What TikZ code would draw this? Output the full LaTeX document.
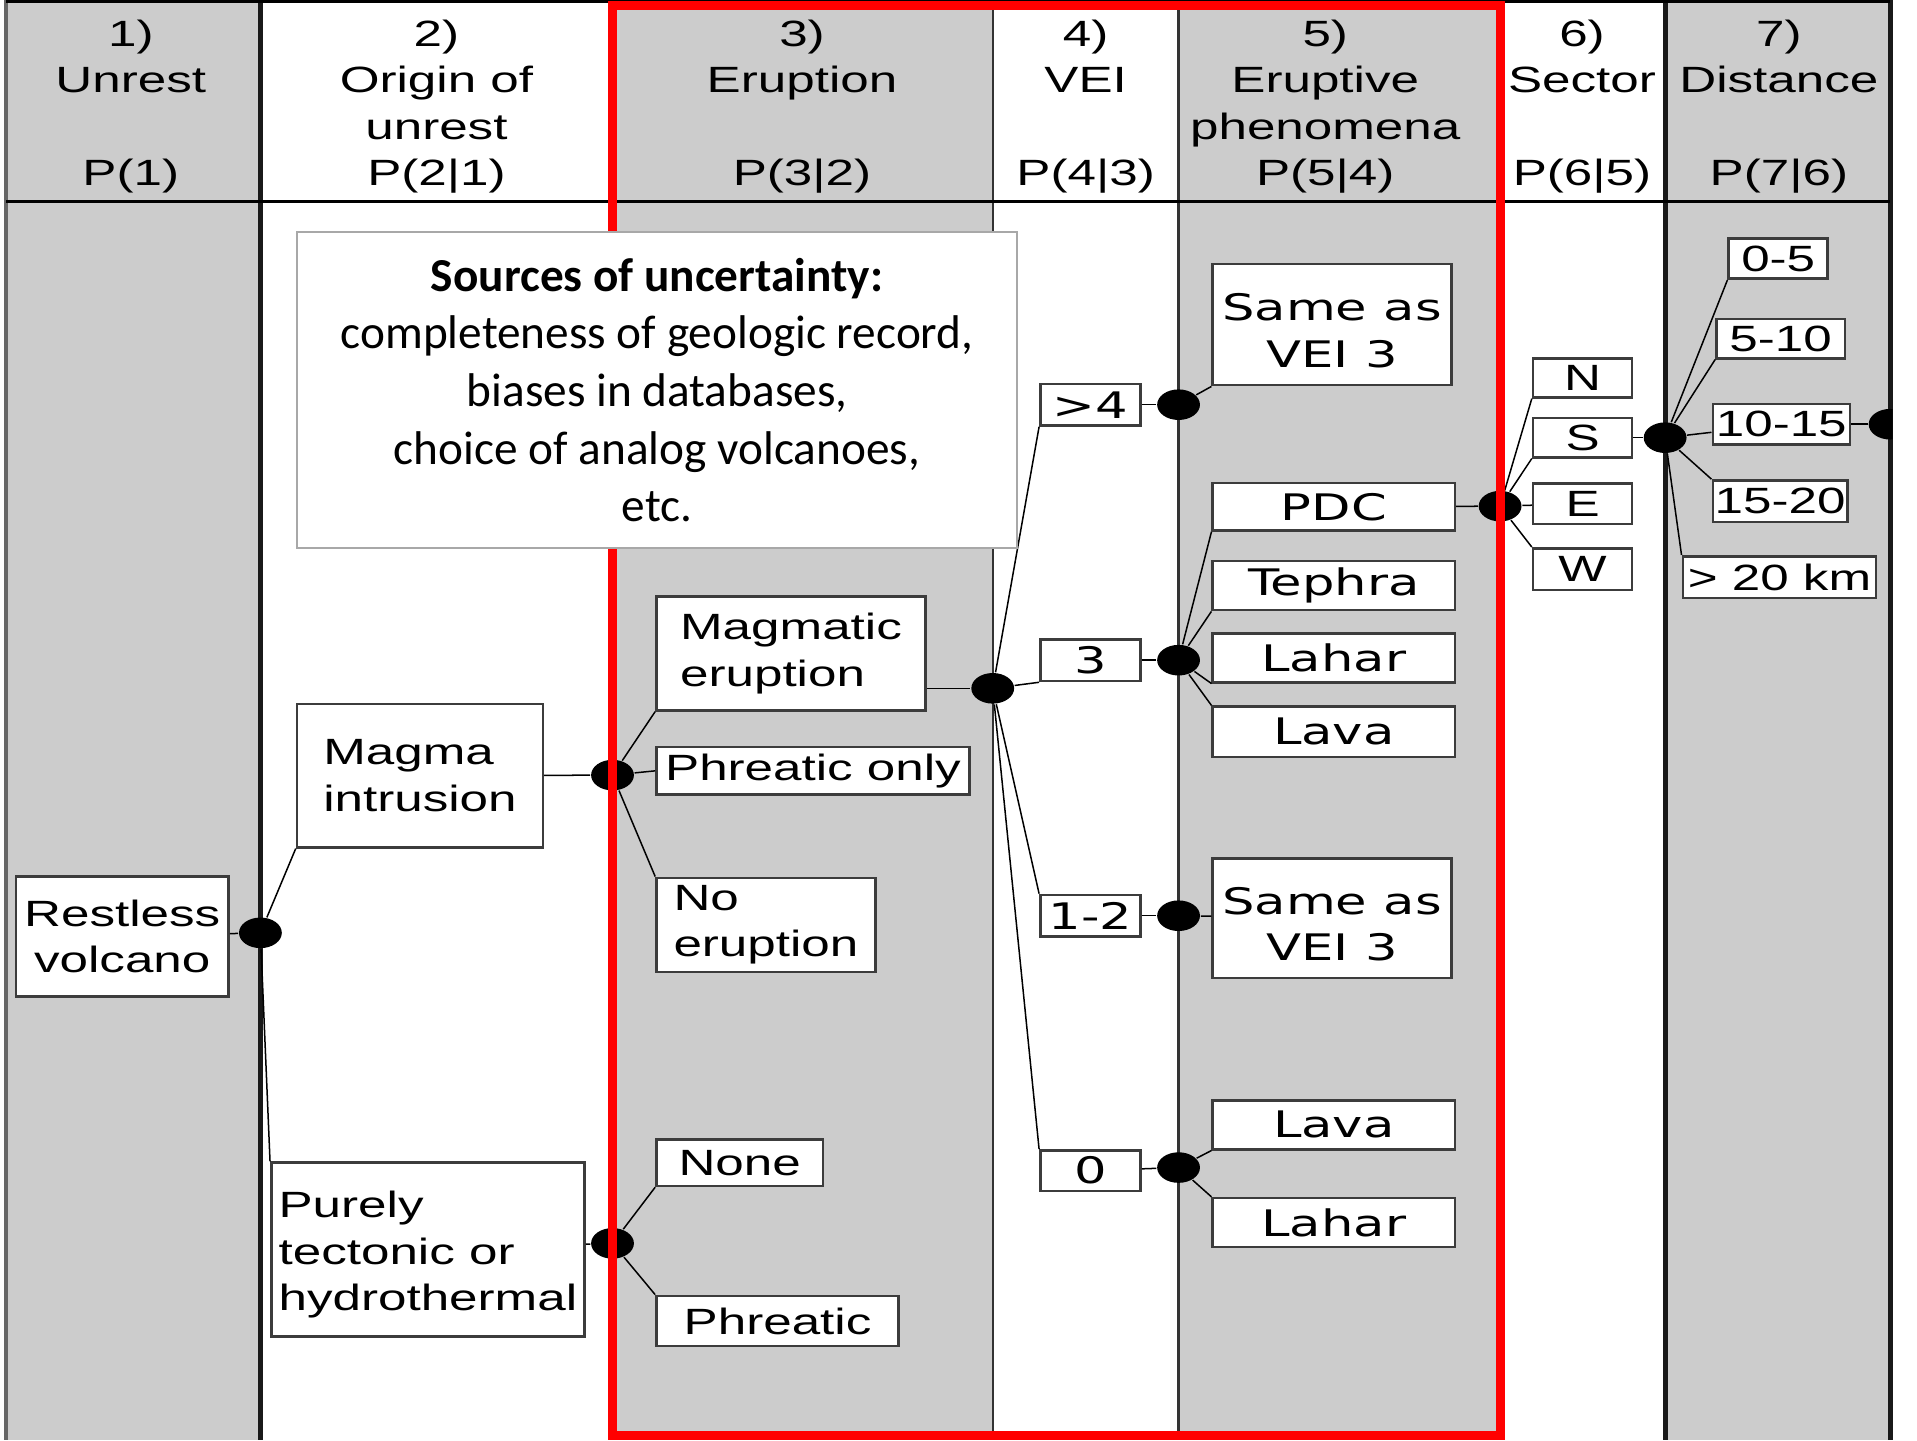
\documentclass[tikz,border=0pt]{standalone}
\usepackage{fontspec}
\usepackage{tikz}
\usetikzlibrary{shapes.geometric}
\newfontfamily\treefont[FakeStretch=1.4]{Liberation Sans}
\newfontfamily\valuefont[FakeStretch=1.4]{DejaVu Sans}
\newfontfamily\notefont{Carlito}
\definecolor{PanelGray}{HTML}{CCCCCC}
\definecolor{FrameRed}{HTML}{FF0000}
\definecolor{EdgeGray}{HTML}{3C3C3C}
\definecolor{NoteEdge}{HTML}{A8A8A8}

\begin{document}
\begin{tikzpicture}[x=0.01cm, y=-0.01cm,
  box/.style={draw=EdgeGray, line width=0.6pt, fill=white, inner sep=0pt, align=center, font=\treefont\fontsize{8.5}{10.8}\selectfont},
  valbox/.style={box, font=\valuefont\fontsize{8.5}{10.8}\selectfont},
  head/.style={anchor=north, inner sep=0pt, align=center, font=\treefont\fontsize{8.5}{10.8}\selectfont},
  chance/.style={ellipse, fill=black, inner sep=0pt, minimum width=0.35cm, minimum height=0.25cm},
  link/.style={line width=0.35pt, black},
  colrule/.style={line width=0.5pt, black!80},
  heavyrule/.style={line width=1.2pt, black!90}
]
\useasboundingbox (0,0) rectangle (1568,1178);
\fill[white] (0,0) rectangle (1568,1178);

\fill[PanelGray] (5,0) rectangle (213,1178);
\fill[PanelGray] (501,0) rectangle (812,1178);
\fill[PanelGray] (964,0) rectangle (1227,1178);
\fill[PanelGray] (1362,0) rectangle (1546,1178);
\draw[line width=0.9pt, black!60] (5,0) -- (5,1178);
\draw[heavyrule] (213,0) -- (213,1178);
\draw[colrule] (501,0) -- (501,1178);
\draw[colrule] (812,0) -- (812,1178);
\draw[colrule] (964,0) -- (964,1178);
\draw[colrule] (1227,0) -- (1227,1178);
\draw[heavyrule] (1362,0) -- (1362,1178);
\draw[heavyrule] (1546,0) -- (1546,1178);
\draw[line width=0.6pt] (5,1) -- (1546,1);
\draw[line width=0.75pt] (5,165) -- (1546,165);

\node[head] (h1) at (107,15.5) {1)\\Unrest\\[10.8pt]P(1)};
\node[head] (h2) at (357,15.5) {2)\\Origin of\\unrest\\P(2|1)};
\node[head] (h3) at (656,15.5) {3)\\Eruption\\[10.8pt]P(3|2)};
\node[head] (h4) at (888,15.5) {4)\\VEI\\[10.8pt]P(4|3)};
\node[head] (h5) at (1084,15.5) {5)\\Eruptive\\phenomena\\P(5|4)};
\node[head] (h6) at (1294,15.5) {6)\\Sector\\[10.8pt]P(6|5)};
\node[head] (h7) at (1455,15.5) {7)\\Distance\\[10.8pt]P(7|6)};

\begin{scope}
\clip (0,0) rectangle (1548,1178);
\node[box, minimum width=1.74cm, minimum height=0.98cm] (rv) at (100,766) {Restless\\volcano};
\node[box, align=left, minimum width=2.01cm, minimum height=1.17cm] (mi) at (343.5,634.5) {Magma\\intrusion};
\node[box, align=left, text height=1.06cm, minimum width=2.56cm, minimum height=1.42cm] (pt) at (350,1022) {Purely\\tectonic or\\hydrothermal};
\node[box, align=left, minimum width=2.2cm, minimum height=0.93cm] (me) at (647,534.5) {Magmatic\\eruption};
\node[box, minimum width=2.56cm, minimum height=0.39cm] (po) at (665,630.5) {Phreatic only};
\node[box, align=left, minimum width=1.79cm, minimum height=0.77cm] (ne) at (626.5,756.5) {No\\eruption};
\node[box, minimum width=1.36cm, minimum height=0.38cm] (nn) at (605,951) {None};
\node[box, minimum width=1.98cm, minimum height=0.41cm] (ph) at (636,1080.5) {Phreatic};

\node[valbox, minimum width=0.82cm, minimum height=0.34cm] (v4) at (892,331) {>4};
\node[valbox, minimum width=0.82cm, minimum height=0.34cm] (v3) at (892,540) {3};
\node[valbox, minimum width=0.82cm, minimum height=0.34cm] (v12) at (892,749) {1-2};
\node[valbox, minimum width=0.82cm, minimum height=0.33cm] (v0) at (892,957.5) {0};

\node[valbox, text height=0.7cm, minimum width=1.95cm, minimum height=0.99cm] (sa4) at (1089.5,265.5) {Same as\\VEI 3};
\node[valbox, minimum width=1.98cm, minimum height=0.39cm] (pdc) at (1091,414.5) {PDC};
\node[valbox, minimum width=1.98cm, minimum height=0.4cm] (tph) at (1091,479) {Tephra};
\node[valbox, minimum width=1.98cm, minimum height=0.4cm] (lh3) at (1091,538) {Lahar};
\node[valbox, minimum width=1.98cm, minimum height=0.41cm] (lv3) at (1091,598.5) {Lava};
\node[valbox, text height=0.7cm, minimum width=1.95cm, minimum height=0.98cm] (sa12) at (1089.5,751) {Same as\\VEI 3};
\node[valbox, minimum width=1.98cm, minimum height=0.4cm] (lv0) at (1091,920) {Lava};
\node[valbox, minimum width=1.98cm, minimum height=0.4cm] (lh0) at (1091,1000) {Lahar};

\node[box, minimum width=0.81cm, minimum height=0.32cm] (sn) at (1294.5,309) {N};
\node[box, minimum width=0.81cm, minimum height=0.32cm] (ss) at (1294.5,358) {S};
\node[box, minimum width=0.81cm, minimum height=0.33cm] (se) at (1294.5,412) {E};
\node[box, minimum width=0.81cm, minimum height=0.34cm] (sw) at (1294.5,465.5) {W};

\node[box, minimum width=0.81cm, minimum height=0.33cm] (r05) at (1454.5,211.5) {0-5};
\node[box, minimum width=1.05cm, minimum height=0.32cm] (r510) at (1456.5,277) {5-10};
\node[box, minimum width=1.12cm, minimum height=0.33cm] (r1015) at (1457,347) {10-15};
\node[box, minimum width=1.1cm, minimum height=0.34cm] (r1520) at (1456,410) {15-20};
\node[box, minimum width=1.58cm, minimum height=0.34cm] (rfar) at (1455.5,472) {> 20 km};

\node[chance] (ch1) at (213,763) {};
\node[chance] (ch2) at (501,634) {};
\node[chance] (ch3) at (501,1017) {};
\node[chance] (ch4) at (812,563) {};
\node[chance] (ch5) at (964,331) {};
\node[chance] (ch6) at (964,540) {};
\node[chance] (ch7) at (964,749) {};
\node[chance] (ch8) at (964,955) {};
\node[chance] (ch9) at (1227,414) {};
\node[chance] (ch10) at (1362,358) {};
\node[chance] (ch11) at (1546,347) {};

\draw[link] (rv) -- (ch1);
\draw[link] (ch1) -- (mi.south west);
\draw[link] (ch1) -- (pt.north west);
\draw[link] (mi) -- (ch2);
\draw[link] (ch2) -- (me.south west);
\draw[link] (ch2) -- (po.west);
\draw[link] (ch2) -- (ne.north west);
\draw[link] (pt) -- (ch3);
\draw[link] (ch3) -- (nn.south west);
\draw[link] (ch3) -- (ph.north west);
\draw[link] (me.east |- ch4) -- (ch4);
\draw[link] (ch4) -- (v4.south west);
\draw[link] (ch4) -- (v3.south west);
\draw[link] (ch4) -- (v12.north west);
\draw[link] (ch4) -- (v0.north west);
\draw[link] (v4) -- (ch5);
\draw[link] (v3) -- (ch6);
\draw[link] (v12) -- (ch7);
\draw[link] (v0) -- (ch8);
\draw[link] (ch5) -- (sa4.south west);
\draw[link] (ch6) -- (pdc.south west);
\draw[link] (ch6) -- (tph.south west);
\draw[link] (ch6) -- (lh3.south west);
\draw[link] (ch6) -- (lv3.north west);
\draw[link] (ch7) -- (sa12);
\draw[link] (ch8) -- (lv0.south west);
\draw[link] (ch8) -- (lh0.north west);
\draw[link] (pdc) -- (ch9);
\draw[link] (ch9) -- (sn.south west);
\draw[link] (ch9) -- (ss.south west);
\draw[link] (ch9) -- (se);
\draw[link] (ch9) -- (sw.north west);
\draw[link] (ss) -- (ch10);
\draw[link] (ch10) -- (r05.south west);
\draw[link] (ch10) -- (r510.south west);
\draw[link] (ch10) -- (r1015);
\draw[link] (ch10) -- (r1520.north west);
\draw[link] (ch10) -- (rfar.north west);
\draw[link] (r1015) -- (ch11);
\end{scope}

\draw[FrameRed, line width=2.1pt] (501,4.5) rectangle (1227,1174.5);

\node[draw=NoteEdge, line width=0.5pt, fill=white, inner sep=0pt, minimum width=5.89cm, minimum height=2.58cm, align=center, font=\notefont\fontsize{11}{13.4}\selectfont] (note) at (537.5,319) {\textbf{Sources of uncertainty:}\\completeness of geologic record,\\biases in databases,\\choice of analog volcanoes,\\etc.};
\end{tikzpicture}
\end{document}
